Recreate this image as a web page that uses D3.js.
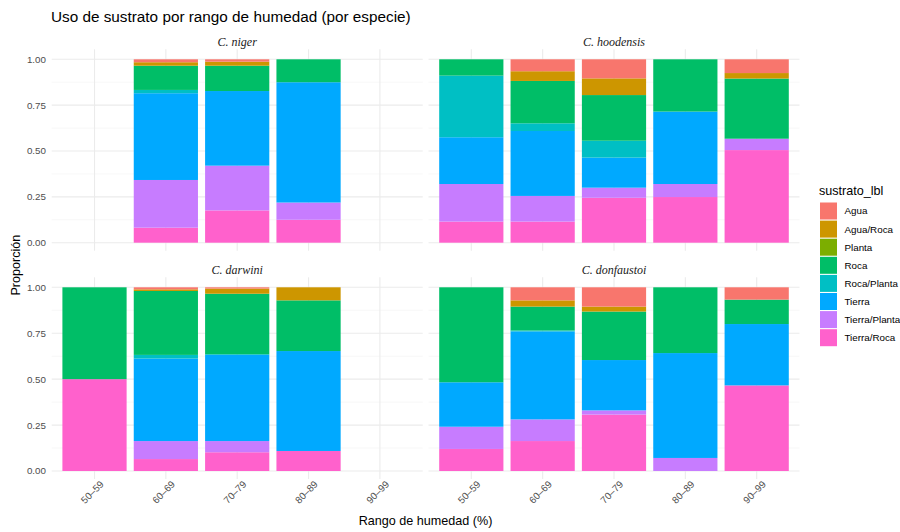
<!DOCTYPE html>
<html>
<head>
<meta charset="utf-8">
<script src="https://cdn.jsdelivr.net/npm/d3@7"></script>
<style>
  html, body { margin: 0; padding: 0; background: #ffffff; }
  svg { display: block; font-family: "Liberation Sans", Arial, sans-serif; }
</style>
</head>
<body>
<svg id="chart" width="900" height="532"></svg>
<script>
// Humidity ranges (x categories)
const rangos = ["50–59", "60–69", "70–79", "80–89", "90–99"];

// Substrate classes (legend order) and their hue palette
const sustratos = ["Agua", "Agua/Roca", "Planta", "Roca", "Roca/Planta", "Tierra", "Tierra/Planta", "Tierra/Roca"];
const colores = ["#F8766D", "#CD9600", "#7CAE00", "#00BE67", "#00BFC4", "#00A9FF", "#C77CFF", "#FF61CC"];

// Species facets, in panel order (row by row)
const especies = ["C. niger", "C. hoodensis", "C. darwini", "C. donfaustoi"];

// Proportions per range, in the order of `sustratos`; null = no observations
const niger = [
  null,
  [0.016, 0.019, 0, 0.132, 0.018, 0.473, 0.260, 0.082],
  [0.013, 0.022, 0, 0.138, 0,     0.407, 0.244, 0.176],
  [0,     0,     0, 0.125, 0,     0.656, 0.094, 0.125],
  null
];
const hoodensis = [
  [0,     0,     0, 0.089, 0.336, 0.255, 0.205, 0.115],
  [0.065, 0.053, 0, 0.231, 0.042, 0.354, 0.140, 0.115],
  [0.104, 0.091, 0, 0.249, 0.092, 0.164, 0.055, 0.245],
  [0,     0,     0, 0.285, 0,     0.395, 0.071, 0.249],
  [0.075, 0.030, 0, 0.328, 0,     0,     0.062, 0.505]
];
const darwini = [
  [0,     0,     0, 0.500, 0,     0,     0,     0.500],
  [0.011, 0.009, 0, 0.348, 0.020, 0.449, 0.098, 0.065],
  [0.007, 0.028, 0, 0.329, 0.004, 0.469, 0.061, 0.102],
  [0,     0.071, 0, 0.276, 0,     0.544, 0,     0.109],
  null
];
const donfaustoi = [
  [0,     0,     0, 0.517, 0,     0.242, 0.121, 0.120],
  [0.071, 0.034, 0, 0.130, 0.005, 0.479, 0.118, 0.163],
  [0.105, 0.027, 0, 0.264, 0,     0.274, 0.023, 0.307],
  [0,     0,     0, 0.358, 0,     0.571, 0.071, 0],
  [0.067, 0,     0, 0.133, 0,     0.334, 0,     0.466]
];
const datosEspecie = [niger, hoodensis, darwini, donfaustoi];

const yTicks = [0, 0.25, 0.5, 0.75, 1];
const yMinor = [0.125, 0.375, 0.625, 0.875];

const svg = d3.select("#chart");

// Panel geometry
const colX = [[51.7, 422.7], [428.5, 799.5]];
const rowY = [[59.3, 242.7], [287.3, 471.0]];

const color = d3.scaleOrdinal().domain(sustratos).range(colores);

// Stack from the bottom: last legend entry sits at the base
const stackKeys = sustratos.slice().reverse();

especies.forEach((sp, i) => {
  const col = i % 2, row = Math.floor(i / 2);
  const [x0, x1] = colX[col];
  const [yb0, yb1] = rowY[row];

  const x = d3.scaleBand().domain(rangos).range([x0, x1])
    .paddingInner(0.1).paddingOuter(0.15);
  const y = d3.scaleLinear().domain([0, 1]).range([yb1, yb0]);

  const g = svg.append("g");

  // minor horizontal grid
  g.selectAll("line.minor").data(yMinor).join("line")
    .attr("x1", x0).attr("x2", x1)
    .attr("y1", d => y(d)).attr("y2", d => y(d))
    .attr("stroke", "#f2f2f2").attr("stroke-width", 0.6);
  // major horizontal grid
  g.selectAll("line.majh").data(yTicks).join("line")
    .attr("x1", x0).attr("x2", x1)
    .attr("y1", d => y(d)).attr("y2", d => y(d))
    .attr("stroke", "#ebebeb").attr("stroke-width", 1.1);
  // major vertical grid
  g.selectAll("line.majv").data(rangos).join("line")
    .attr("x1", d => x(d) + x.bandwidth() / 2).attr("x2", d => x(d) + x.bandwidth() / 2)
    .attr("y1", yb0 - 10).attr("y2", yb1 + 8)
    .attr("stroke", "#ebebeb").attr("stroke-width", 1.1);

  // stacked bars
  const rows = datosEspecie[i]
    .map((vals, k) => vals ? Object.assign({ rango: rangos[k] },
      Object.fromEntries(sustratos.map((s, j) => [s, vals[j]]))) : null)
    .filter(d => d);
  const series = d3.stack().keys(stackKeys)(rows);

  g.selectAll("g.serie").data(series).join("g")
    .attr("fill", d => color(d.key))
    .selectAll("rect").data(d => d.filter(p => p[1] - p[0] > 0)).join("rect")
      .attr("x", p => x(p.data.rango))
      .attr("width", x.bandwidth())
      .attr("y", p => y(p[1]))
      .attr("height", p => y(p[0]) - y(p[1]));

  // strip title
  svg.append("text")
    .attr("x", (x0 + x1) / 2).attr("y", yb0 - 13)
    .attr("text-anchor", "middle")
    .attr("font-family", "'Liberation Serif', 'Times New Roman', serif")
    .attr("font-style", "italic")
    .attr("font-size", 12)
    .attr("fill", "#1a1a1a")
    .text(sp);

  // y tick labels on the left column
  if (col === 0) {
    svg.append("g").selectAll("text").data(yTicks).join("text")
      .attr("x", 46).attr("y", d => y(d))
      .attr("dy", "0.35em")
      .attr("text-anchor", "end")
      .attr("font-size", 9.8)
      .attr("fill", "#4d4d4d")
      .text(d => d3.format(".2f")(d));
  }

  // x tick labels on the bottom row
  if (row === 1) {
    svg.append("g").selectAll("text").data(rangos).join("text")
      .attr("transform", d => `translate(${x(d) + x.bandwidth() / 2 + 5},${yb1 + 9}) rotate(-45)`)
      .attr("dy", "0.7em")
      .attr("text-anchor", "end")
      .attr("font-size", 9.8)
      .attr("fill", "#4d4d4d")
      .text(d => d);
  }
});

// Title
svg.append("text")
  .attr("x", 51).attr("y", 22)
  .attr("font-size", 15.3)
  .attr("fill", "#000")
  .text("Uso de sustrato por rango de humedad (por especie)");

// Axis titles
svg.append("text")
  .attr("x", (colX[0][0] + colX[1][1]) / 2).attr("y", 525)
  .attr("text-anchor", "middle")
  .attr("font-size", 12.6)
  .attr("fill", "#000")
  .text("Rango de humedad (%)");

svg.append("text")
  .attr("transform", `translate(20,${(rowY[0][0] + rowY[1][1]) / 2}) rotate(-90)`)
  .attr("text-anchor", "middle")
  .attr("font-size", 12.6)
  .attr("fill", "#000")
  .text("Proporción");

// Legend
const leg = svg.append("g").attr("transform", "translate(819,0)");
leg.append("text")
  .attr("x", 0).attr("y", 195)
  .attr("font-size", 12.6)
  .attr("fill", "#000")
  .text("sustrato_lbl");
const item = leg.selectAll("g.item").data(sustratos).join("g")
  .attr("transform", (d, k) => `translate(0,${202.5 + k * 18.1})`);
item.append("rect")
  .attr("x", 1).attr("y", 0).attr("width", 17).attr("height", 17)
  .attr("fill", d => color(d));
item.append("text")
  .attr("x", 25.5).attr("y", 8.5).attr("dy", "0.35em")
  .attr("font-size", 9.8)
  .attr("fill", "#000")
  .text(d => d);
</script>
</body>
</html>
